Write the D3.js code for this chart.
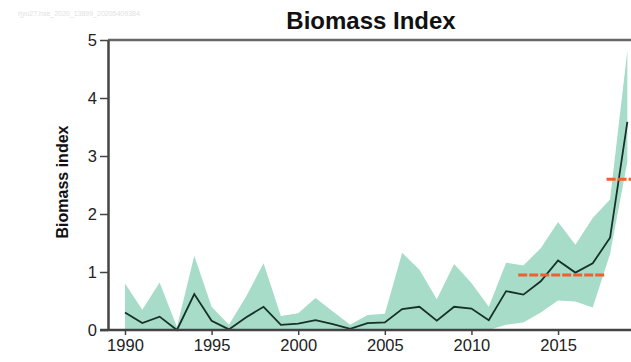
<!DOCTYPE html>
<meta charset="utf-8">
<script src="https://d3js.org/d3.v7.js"></script>
<style>
  body { margin: 0; background: #fff; }
  svg text { font-family: "Liberation Sans", Arial, sans-serif; }
</style>
<svg id="chart" width="631" height="362"></svg>
<script>

// data
const years = d3.range(1990, 2020);
const median = [0.30, 0.12, 0.23, 0.00, 0.62, 0.16, 0.01, 0.22, 0.40, 0.09,
                0.11, 0.17, 0.10, 0.02, 0.12, 0.13, 0.36, 0.40, 0.16, 0.40,
                0.37, 0.17, 0.67, 0.61, 0.84, 1.20, 0.99, 1.15, 1.59, 3.59];
const upper  = [0.80, 0.35, 0.82, 0.05, 1.28, 0.40, 0.09, 0.58, 1.15, 0.24,
                0.29, 0.55, 0.32, 0.09, 0.26, 0.28, 1.33, 1.04, 0.53, 1.14,
                0.81, 0.40, 1.16, 1.11, 1.41, 1.86, 1.47, 1.93, 2.25, 4.82];
const lower  = [0, 0, 0, 0, 0, 0, 0, 0, 0, 0,
                0, 0, 0, 0, 0, 0, 0, 0, 0, 0,
                0, 0, 0.09, 0.13, 0.30, 0.51, 0.49, 0.39, 1.31, 2.90];

// reference means (orange dashed)
const refStart = [2012.7, 2017.8];
const refEnd   = [2017.75, 2019.21];
const refValue = [0.95, 2.60];

const xTicks = [1990, 1995, 2000, 2005, 2010, 2015];
const yTicks = [0, 1, 2, 3, 4, 5];

const svg = d3.select("#chart");

const x = d3.scaleLinear().domain([1989.02, 2019.21]).range([108, 631]);
const y = d3.scaleLinear().domain([0, 5]).range([330, 40]);

const rows = years.map((yr, i) => ({yr: yr, m: median[i], hi: upper[i], lo: lower[i]}));

// faint watermark
svg.append("text")
  .attr("x", 18).attr("y", 16)
  .attr("font-size", 7)
  .attr("fill", "#e2e2e2")
  .text("rjyu27.hse_2020_13899_20205409384");

// band
svg.append("path")
  .datum(rows)
  .attr("fill", "#a7dcc9")
  .attr("d", d3.area()
    .x(d => x(d.yr))
    .y0(d => y(d.lo))
    .y1(d => y(d.hi)));

// median line
svg.append("path")
  .datum(rows)
  .attr("fill", "none")
  .attr("stroke", "#17302a")
  .attr("stroke-width", 1.8)
  .attr("d", d3.line().x(d => x(d.yr)).y(d => y(d.m)));

// orange dashed reference lines
svg.append("g")
  .selectAll("line")
  .data(refValue)
  .join("line")
    .attr("x1", (d, i) => x(refStart[i]))
    .attr("x2", (d, i) => x(refEnd[i]))
    .attr("y1", d => y(d))
    .attr("y2", d => y(d))
    .attr("stroke", "#ef5f2f")
    .attr("stroke-width", 3)
    .attr("stroke-dasharray", "9,2");

// top frame line
svg.append("line")
  .attr("x1", x.range()[0]).attr("x2", 631)
  .attr("y1", y(5)).attr("y2", y(5))
  .attr("stroke", "#666").attr("stroke-width", 2.5);

// axes
const yAxis = svg.append("g")
  .attr("transform", "translate(108,0)")
  .call(d3.axisLeft(y).tickValues(yTicks).tickFormat(d3.format("d")).tickSize(8).tickSizeOuter(0).tickPadding(3));

const xAxis = svg.append("g")
  .attr("transform", "translate(0,330)")
  .call(d3.axisBottom(x).tickValues(xTicks).tickFormat(d3.format("d")).tickSize(5).tickSizeOuter(0).tickPadding(4));

[yAxis, xAxis].forEach(g => {
  g.select(".domain").attr("stroke", "#444").attr("stroke-width", 2.5);
  g.selectAll(".tick line").attr("stroke", "#444").attr("stroke-width", 1.5);
  g.selectAll(".tick text")
    .attr("font-size", 16.5)
    .attr("fill", "#222")
    .style("font-family", "'Liberation Sans', Arial, sans-serif");
});
xAxis.select(".domain").attr("d", "M100,0H631");

// title
svg.append("text")
  .attr("x", 371).attr("y", 29)
  .attr("text-anchor", "middle")
  .attr("font-size", 24)
  .attr("font-weight", "bold")
  .attr("fill", "#111")
  .text("Biomass Index");

// y label
svg.append("text")
  .attr("transform", "translate(68,182) rotate(-90)")
  .attr("text-anchor", "middle")
  .attr("font-size", 16)
  .attr("font-weight", "bold")
  .attr("fill", "#111")
  .text("Biomass index");

</script>
